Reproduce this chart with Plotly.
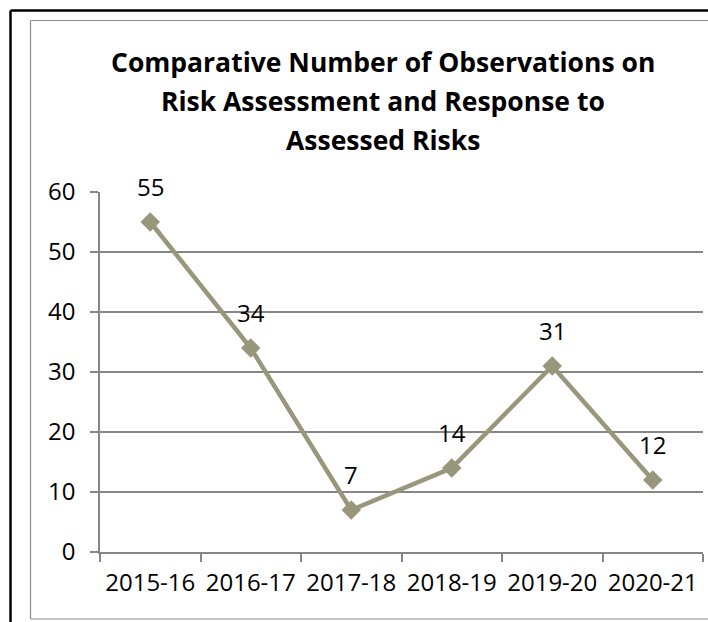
import plotly.graph_objects as go

# Observation counts per audit year
years = ["2015-16", "2016-17", "2017-18", "2018-19", "2019-20", "2020-21"]
observations = [55, 34, 7, 14, 31, 12]
y_ticks = [0, 10, 20, 30, 40, 50, 60]
title_lines = [
    "Comparative Number of Observations on",
    "Risk Assessment and Response to",
    "Assessed Risks",
]

W, H = 708, 622
ML, MR, MT, MB = 100, 5, 192, 70
plot_w = W - ML - MR
plot_h = H - MT - MB

LINE_COLOR = "rgb(152,151,123)"
GRID_COLOR = "rgb(134,134,134)"
FONT = "Open Sans"
TICK_SIZE = 24


def px_to_paper_x(px):
    return (px - ML) / plot_w


def px_to_paper_y(py):
    return (H - MB - py) / plot_h


fig = go.Figure()
fig.add_trace(go.Scatter(
    x=years,
    y=observations,
    mode="lines+markers",
    line=dict(color=LINE_COLOR, width=4.5),
    marker=dict(symbol="diamond", size=15, color=LINE_COLOR),
    hoverinfo="x+y",
    showlegend=False,
))

# value labels above each point
for yr, v in zip(years, observations):
    fig.add_annotation(
        x=yr, y=v, text=str(v), showarrow=False,
        yshift=36, xanchor="center", yanchor="middle",
        font=dict(family=FONT, size=TICK_SIZE, color="black"),
    )

# chart title, one annotation per line
for i, line in enumerate(title_lines):
    fig.add_annotation(
        xref="paper", yref="paper",
        x=px_to_paper_x(383), y=px_to_paper_y(62 + 39 * i),
        text=f"<b>{line}</b>", showarrow=False,
        xanchor="center", yanchor="middle",
        font=dict(family=FONT, size=26.5, color="black"),
    )

# frame lines: outer black border and inner grey chart border
frame = [
    dict(x0=10.5, y0=10.5, x1=W + 5, y1=10.5, color="black", width=2.5),
    dict(x0=10.5, y0=10.5, x1=10.5, y1=H + 5, color="black", width=2.5),
    dict(x0=30.5, y0=20.5, x1=W + 5, y1=20.5, color="rgb(140,140,140)", width=1.2),
    dict(x0=30.5, y0=20.5, x1=30.5, y1=619, color="rgb(140,140,140)", width=1.2),
    dict(x0=30.5, y0=619, x1=W + 5, y1=619, color="rgb(140,140,140)", width=1.2),
]
for f in frame:
    fig.add_shape(
        type="line", xref="paper", yref="paper",
        x0=px_to_paper_x(f["x0"]), x1=px_to_paper_x(f["x1"]),
        y0=px_to_paper_y(f["y0"]), y1=px_to_paper_y(f["y1"]),
        line=dict(color=f["color"], width=f["width"]),
        layer="above",
    )

fig.update_layout(
    width=W, height=H,
    margin=dict(l=ML, r=MR, t=MT, b=MB, pad=0),
    paper_bgcolor="white",
    plot_bgcolor="white",
    font=dict(family=FONT, size=TICK_SIZE, color="black"),
    xaxis=dict(
        type="category",
        range=[-0.5, len(years) - 0.5],
        showgrid=False,
        showline=True, linecolor=GRID_COLOR, linewidth=1.5,
        ticks="outside", tickson="boundaries", ticklen=8,
        tickcolor=GRID_COLOR, tickwidth=1.5,
        tickfont=dict(family=FONT, size=TICK_SIZE, color="black"),
        ticklabelstandoff=8,
        zeroline=False,
    ),
    yaxis=dict(
        range=[0, 60],
        tickvals=y_ticks,
        showgrid=True, gridcolor=GRID_COLOR, gridwidth=1.5,
        showline=True, linecolor=GRID_COLOR, linewidth=1.5,
        ticks="outside", ticklen=8, tickcolor=GRID_COLOR, tickwidth=1.5,
        tickfont=dict(family=FONT, size=TICK_SIZE, color="black"),
        ticklabelstandoff=10,
        zeroline=False,
    ),
)

fig.write_html("out.html")
